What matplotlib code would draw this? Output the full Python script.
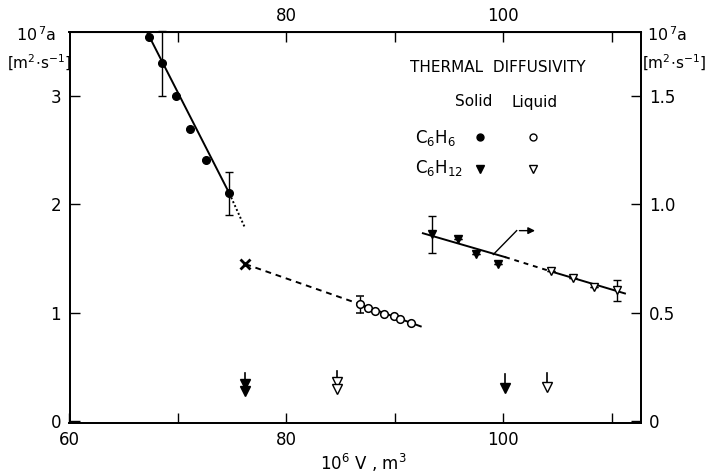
import numpy as np
import matplotlib
matplotlib.use('Agg')
import matplotlib.pyplot as plt

plt.rcParams['font.family'] = 'DejaVu Sans'
plt.rcParams['mathtext.default'] = 'regular'

#-------------------------------#
# data      #
#-------------------------------#

# benzene, solid (left axis, 10^7 a)
bz_solid_v = [67.37, 68.57, 69.86, 71.15, 72.63, 74.75]
bz_solid_a = [3.545, 3.301, 3.003, 2.692, 2.404, 2.099]
bz_solid_err = [0, 0.30, 0, 0, 0, 0.20]
bz_solid_fit_v = [67.2, 74.75]
bz_solid_fit_a = [3.58, 2.099]
bz_solid_ext_v = [74.75, 76.13]
bz_solid_ext_a = [2.099, 1.795]

# benzene, liquid
bz_liq_v = [86.82, 87.53, 88.14, 88.97, 89.89, 90.53, 91.52]
bz_liq_a = [1.076, 1.046, 1.018, 0.984, 0.970, 0.939, 0.902]
bz_liq_err = [0.08, 0, 0, 0, 0, 0, 0]
bz_cross_v = [76.22]
bz_cross_a = [1.447]
bz_liq_dash_v = [76.22, 86.82]
bz_liq_dash_a = [1.447, 1.076]
bz_liq_fit_v = [86.82, 92.40]
bz_liq_fit_a = [1.076, 0.872]

# cyclohexane (right axis, 10^7 a)
ch_solid_v = [93.43, 95.88, 97.51, 99.57]
ch_solid_a = [0.862, 0.840, 0.768, 0.725]
ch_solid_err = [0.085, 0, 0, 0]
ch_liq_v = [104.40, 106.48, 108.42, 110.48]
ch_liq_a = [0.690, 0.661, 0.616, 0.603]
ch_liq_err = [0, 0, 0, 0.048]
ch_fit_solid_v = [92.6, 100.18]
ch_fit_solid_a = [0.866, 0.756]
ch_fit_dash_v = [100.18, 104.40]
ch_fit_dash_a = [0.756, 0.690]
ch_fit_liq_v = [104.40, 111.24]
ch_fit_liq_a = [0.690, 0.588]
pointer_v = [99.1, 101.25]
pointer_a = [0.768, 0.878]
pointer_tip_v = 103.2

# transition arrows (left axis units)
trans_v = [76.2, 84.67, 100.18, 104.03]
trans_top = [0.446, 0.461, 0.434, 0.446]
trans_heads = [[0.340, 0.272], [0.360, 0.292], [0.305], [0.315]]
trans_filled = [True, False, True, False]

#-------------------------------#
# figure                        #
#-------------------------------#

fig = plt.figure(figsize=(7.09, 4.76), dpi=100)
ax = fig.add_axes([69.5 / 709, 53 / 476, (641 - 69.5) / 709, (423 - 32) / 476])
ax.set_xlim(60, 112.72)
ax.set_ylim(-0.02, 3.59)

lw = 1.4
ax.plot(bz_solid_fit_v, bz_solid_fit_a, color='k', lw=lw)
ax.plot(bz_solid_ext_v, bz_solid_ext_a, color='k', lw=lw, ls=(0, (1, 1.2)))
ax.errorbar(bz_solid_v, bz_solid_a, yerr=bz_solid_err, fmt='o', color='k',
            ms=5.5, elinewidth=1, capsize=3, clip_on=False)

ax.plot(bz_liq_dash_v, bz_liq_dash_a, color='k', lw=lw, ls=(0, (3, 2.5)))
ax.plot(bz_liq_fit_v, bz_liq_fit_a, color='k', lw=lw)
ax.plot(bz_cross_v, bz_cross_a, 'x', color='k', ms=6.5, mew=2)
ax.errorbar(bz_liq_v, bz_liq_a, yerr=bz_liq_err, fmt='o', mfc='white', mec='k',
            color='k', ms=5.5, mew=1.1, elinewidth=1, capsize=3)

for v, top, heads, filled in zip(trans_v, trans_top, trans_heads, trans_filled):
    ax.plot([v, v], [top, heads[0]], color='k', lw=1.2)
    for h in heads:
        ax.plot(v, h, 'v', ms=6.5, mec='k', mew=1.0,
                mfc='k' if filled else 'white')

ax.tick_params(direction='in', length=7, width=1, labelsize=12, pad=6)
ax.set_xticks([60, 70, 80, 90, 100, 110])
ax.set_xticklabels(['60', '', '80', '', '100', ''])
ax.set_yticks([0, 1, 2, 3])
ax.set_yticklabels(['0', '1', '2', '3'])

top = ax.secondary_xaxis('top')
top.set_xticks([70, 80, 90, 100, 110])
top.set_xticklabels(['', '80', '', '100', ''])
top.tick_params(direction='in', length=7, width=1, labelsize=12, pad=5)

ax2 = ax.twinx()
ax2.set_ylim(-0.01, 1.795)
ax2.plot(ch_fit_solid_v, ch_fit_solid_a, color='k', lw=lw)
ax2.plot(ch_fit_dash_v, ch_fit_dash_a, color='k', lw=lw, ls=(0, (2.5, 2.5)))
ax2.plot(ch_fit_liq_v, ch_fit_liq_a, color='k', lw=lw)
ax2.errorbar(ch_solid_v, ch_solid_a, yerr=ch_solid_err, fmt='v', color='k',
             ms=6, elinewidth=1, capsize=3)
ax2.errorbar(ch_liq_v, ch_liq_a, yerr=ch_liq_err, fmt='v', mfc='white', mec='k',
             color='k', ms=6, mew=1.0, elinewidth=1, capsize=3)
ax2.plot(pointer_v, pointer_a, color='k', lw=1)
ax2.annotate('', xy=(pointer_tip_v, pointer_a[1]), xytext=(pointer_v[1], pointer_a[1]),
             arrowprops=dict(arrowstyle='-|>', color='k', lw=1, mutation_scale=10))
ax2.set_yticks([0, 0.5, 1.0, 1.5])
ax2.set_yticklabels(['0', '0.5', '1.0', '1.5'])
ax2.tick_params(direction='in', length=7, width=1, labelsize=12, pad=6)

for a in (ax, ax2):
    for s in a.spines.values():
        s.set_linewidth(1.3)

# axis labels
fig.text(36 / 709, 1 - 35 / 476, r'10$^{\,7}$a', fontsize=11.5, ha='center', va='center')
fig.text(39 / 709, 1 - 63 / 476, r'[m$^2$$\cdot$s$^{-1}$]', fontsize=11, ha='center', va='center')
fig.text(667 / 709, 1 - 35 / 476, r'10$^{\,7}$a', fontsize=11.5, ha='center', va='center')
fig.text(674 / 709, 1 - 63 / 476, r'[m$^2$$\cdot$s$^{-1}$]', fontsize=11, ha='center', va='center')
fig.text(363 / 709, 1 - 463 / 476, r'10$^6$ V , m$^3$', fontsize=12, ha='center', va='center')

# legend block
fig.text(498 / 709, 1 - 68 / 476, 'THERMAL  DIFFUSIVITY', fontsize=11, ha='center', va='center')
fig.text(474 / 709, 1 - 102 / 476, 'Solid', fontsize=11, ha='center', va='center')
fig.text(535 / 709, 1 - 102 / 476, 'Liquid', fontsize=11, ha='center', va='center')
fig.text(415 / 709, 1 - 138 / 476, r'C$_6$H$_6$', fontsize=12, ha='left', va='center')
fig.text(415 / 709, 1 - 168 / 476, r'C$_6$H$_{12}$', fontsize=12, ha='left', va='center')
lg = fig.add_axes([0, 0, 1, 1], facecolor='none')
lg.set_xlim(0, 709)
lg.set_ylim(476, 0)
lg.axis('off')
lg.plot([480], [137], 'o', color='k', ms=5)
lg.plot([533], [137], 'o', mfc='white', mec='k', ms=5, mew=1)
lg.plot([480], [169], 'v', color='k', ms=6)
lg.plot([533], [169], 'v', mfc='white', mec='k', ms=6, mew=1)

fig.savefig('out.png', dpi=100)
